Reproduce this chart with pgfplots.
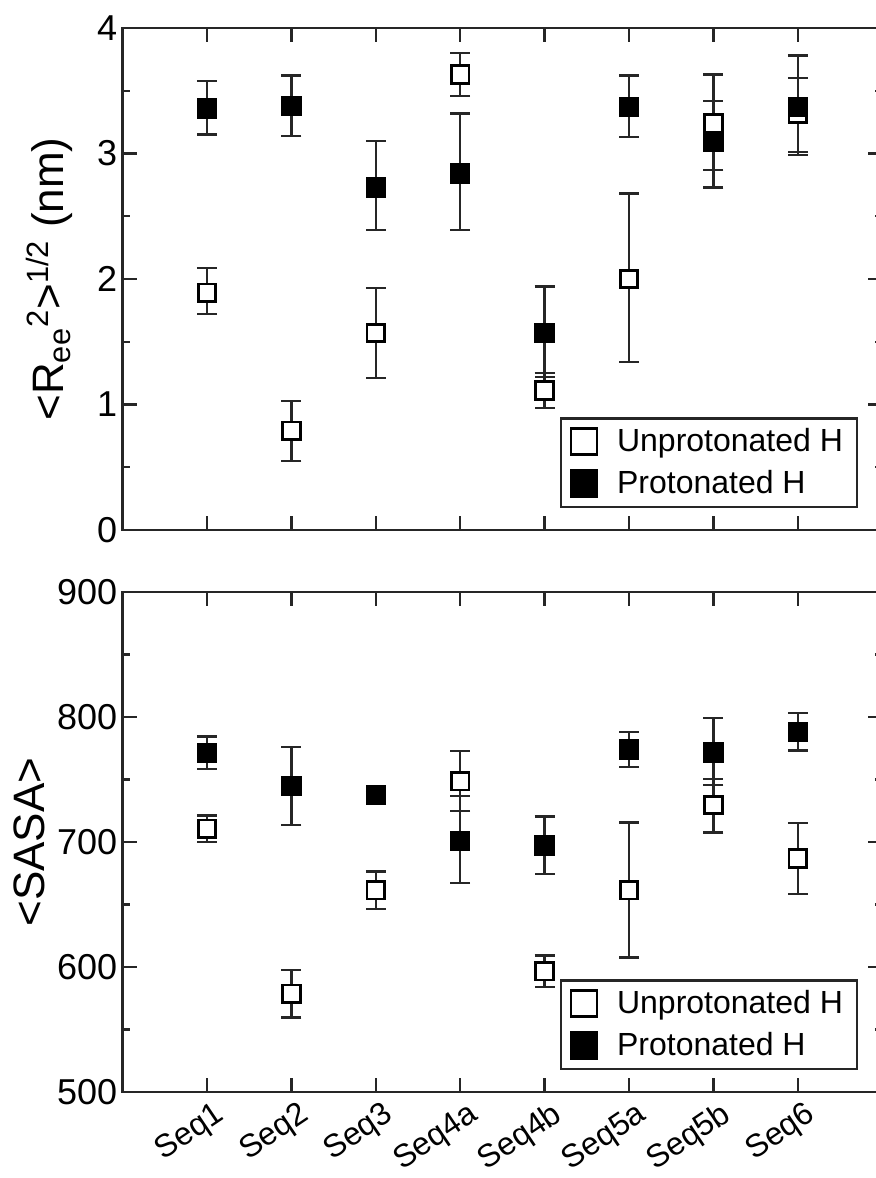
\documentclass[border=0pt]{standalone}
\usepackage{pgfplots}
\pgfplotsset{compat=1.18}
\usepackage{pgfplotstable}
\usepackage{fontspec}
\setmainfont{Liberation Sans}

% end-to-end distance, value and error (+/-)
\pgfplotstableread{
x u    up   um   p    pp   pm
1 1.89 0.20 0.17 3.36 0.22 0.21
2 0.79 0.24 0.24 3.38 0.24 0.24
3 1.57 0.36 0.36 2.73 0.37 0.34
4 3.63 0.17 0.17 2.84 0.48 0.45
5 1.11 0.14 0.14 1.57 0.37 0.35
6 2.00 0.68 0.66 3.37 0.25 0.24
7 3.24 0.39 0.37 3.09 0.33 0.36
8 3.32 0.28 0.31 3.37 0.41 0.38
}\reetab

% SASA
\pgfplotstableread{
x u     up   um   p     pp   pm
1 710.6 10.5 10.5 771.4 13   13
2 578.5 19   19   744.8 31   31
3 661.5 15   15   737.5 2    2
4 748.6 24   24   701.0 36   34
5 596.6 12.7 12.7 697.3 23   23
6 661.5 54   54   774.0 14   14
7 729.6 21   22   771.7 27.6 26.3
8 686.9 28.5 28.5 788.2 15   15
}\sasatab

\pgfplotsset{
  panel/.style={
    scale only axis, width=379.8pt, xmin=0, xmax=9,
    xtick={1,...,8}, tick align=inside, tick pos=both,
    minor y tick num=1,
    major tick length=7pt, minor tick length=3.5pt,
    axis line style={line width=1.3pt, black!85},
    tick style={line width=1.2pt, black!85},
    /pgf/number format/assume math mode=true,
    yticklabel style={font=\fontsize{18}{18}\selectfont, inner sep=2.5pt},
    legend style={draw=black!85, line width=1.2pt, font=\fontsize{16}{16}\selectfont,
      at={(1,0)}, anchor=south east, xshift=-12pt, yshift=11pt,
      inner xsep=5pt, inner ysep=3pt, row sep=4pt,
      /tikz/every odd column/.append style={column sep=8pt}},
    legend cell align=left,
  },
  ebars/.style={error bars/.cd, y dir=both, y explicit,
    error bar style={line width=1.2pt, black!85},
    error mark options={rotate=90, mark size=5pt, line width=1.2pt, black!85}},
  unprot/.style={only marks, mark=square*, mark size=4.4pt, forget plot,
    mark options={fill=white, draw=black, line width=1.4pt}, ebars},
  prot/.style={only marks, mark=square*, mark size=4.4pt, forget plot,
    mark options={fill=black, draw=black, line width=1.4pt}, ebars},
}

\begin{document}
\begin{tikzpicture}
\useasboundingbox (-61.3pt,14pt) rectangle (376.7pt,-575pt);

\begin{axis}[panel, name=top, at={(0,0)}, anchor=north west,
  height=251pt, ymin=0, ymax=4, ytick={0,1,2,3,4}, xticklabels={},
  ylabel={<R\textsubscript{ee}\textsuperscript{2}>\textsuperscript{1/2} (nm)},
  ylabel style={font=\fontsize{22}{22}\selectfont,
    at={(axis description cs:-0.096,0.5)}, anchor=center},
]
  \addlegendimage{only marks, mark=square*, mark size=6.5pt, mark options={fill=white, draw=black, line width=1.3pt}}
  \addlegendentry{Unprotonated H}
  \addlegendimage{only marks, mark=square*, mark size=6.5pt, mark options={fill=black, draw=black, line width=1.3pt}}
  \addlegendentry{Protonated H}
  \addplot[unprot] table[x=x, y=u, y error plus=up, y error minus=um] {\reetab};
  \addplot[prot] table[x=x, y=p, y error plus=pp, y error minus=pm] {\reetab};
\end{axis}

\begin{axis}[panel, name=bot, at={(0,-282pt)}, anchor=north west,
  height=250pt, ymin=500, ymax=900, ytick={500,600,...,900},
  xticklabels={Seq1,Seq2,Seq3,Seq4a,Seq4b,Seq5a,Seq5b,Seq6},
  xticklabel style={font=\fontsize{16}{16}\selectfont, xshift=4pt, yshift=1pt,
    rotate=34, anchor=north east},
  ylabel={<SASA>},
  ylabel style={font=\fontsize{22}{22}\selectfont,
    at={(axis description cs:-0.1224,0.5)}, anchor=center},
]
  \addlegendimage{only marks, mark=square*, mark size=6.5pt, mark options={fill=white, draw=black, line width=1.3pt}}
  \addlegendentry{Unprotonated H}
  \addlegendimage{only marks, mark=square*, mark size=6.5pt, mark options={fill=black, draw=black, line width=1.3pt}}
  \addlegendentry{Protonated H}
  \addplot[unprot] table[x=x, y=u, y error plus=up, y error minus=um] {\sasatab};
  \addplot[prot] table[x=x, y=p, y error plus=pp, y error minus=pm] {\sasatab};
\end{axis}
\end{tikzpicture}
\end{document}
